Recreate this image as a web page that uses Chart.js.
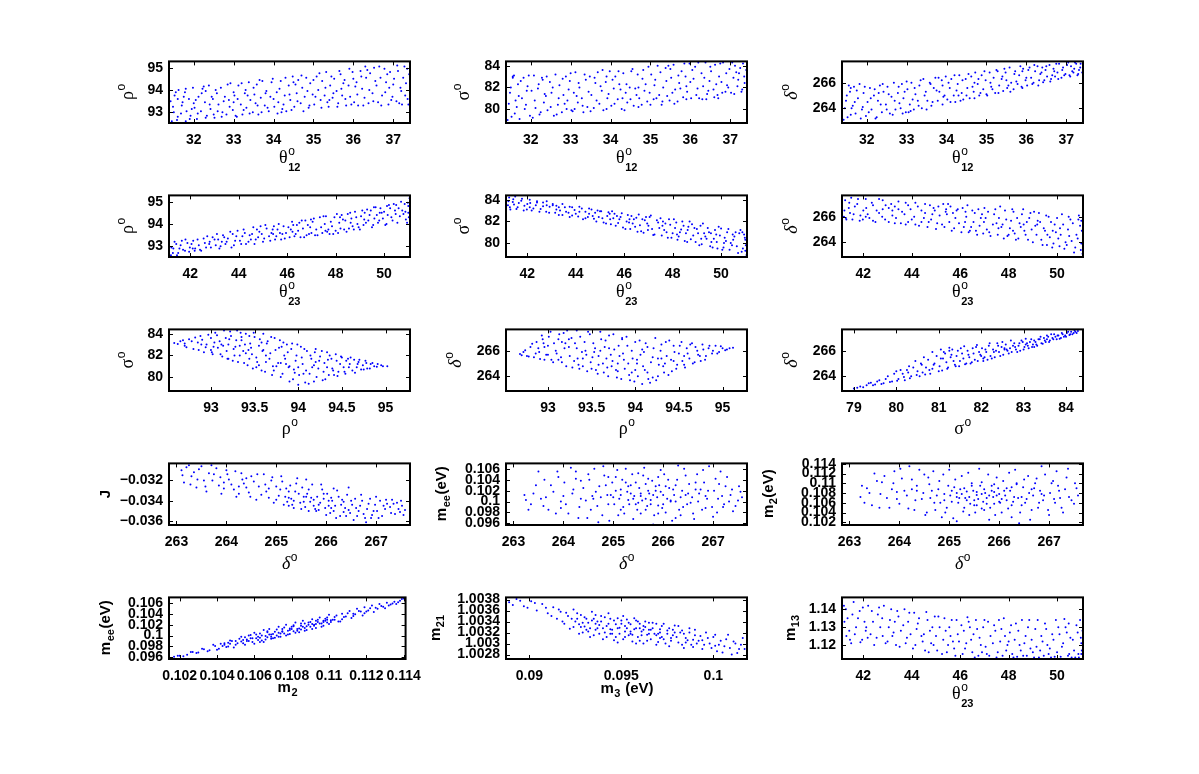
<!DOCTYPE html>
<html><head><meta charset="utf-8">
<script src="https://cdn.jsdelivr.net/npm/chart.js@4.4.0/dist/chart.umd.min.js"></script>
<style>
html,body{margin:0;padding:0;background:#fff;}
#page{position:relative;width:1199px;height:774px;overflow:hidden;background:#fff;}
.cell{position:absolute;}
</style></head><body><div id="page"></div>
<script>
// ---------- data: [x, y] pairs ----------
const rho_theta12 = [[31.45,92.6],[31.5,93.0],[31.42,93.5],[31.55,93.9],[31.6,92.8],[31.7,93.3],[31.75,93.7],[31.8,94.05],[31.9,92.7],[31.95,93.15],
[32.05,93.55],[32.1,92.95],[32.2,93.85],[32.25,94.15],[32.3,92.75],[32.4,93.35],[32.45,93.7],[32.55,94.0],[32.6,93.05],[32.7,92.8],
[32.75,93.5],[32.85,94.25],[32.9,93.25],[33.0,93.9],[33.05,92.85],[33.1,93.6],[33.2,94.3],[33.25,93.1],[33.35,93.75],[33.4,92.95],
[33.5,94.1],[33.55,93.4],[33.65,94.45],[33.7,93.0],[33.8,93.85],[33.85,93.2],[33.95,94.35],[34.0,93.6],[34.1,92.95],[34.15,94.05],
[34.25,93.35],[34.3,94.55],[34.4,93.8],[34.45,93.1],[34.55,94.25],[34.6,93.5],[34.7,94.65],[34.75,93.05],[34.85,93.95],[34.9,93.3],
[35.0,94.45],[35.05,93.7],[35.15,94.75],[35.2,93.2],[35.3,94.1],[35.35,93.45],[35.45,94.6],[35.5,93.85],[35.6,93.25],[35.65,94.85],
[35.75,94.3],[35.8,93.6],[35.9,94.95],[35.95,93.35],[36.05,94.15],[36.1,93.8],[36.2,94.6],[36.25,93.3],[36.35,94.9],[36.4,94.0],
[36.5,93.5],[36.55,94.4],[36.65,95.05],[36.7,93.3],[36.8,93.9],[36.85,94.7],[36.95,93.55],[37.0,94.25],[37.1,95.1],[37.15,93.4],
[37.25,94.55],[37.3,93.75],[37.35,94.95],[37.38,93.35],[31.6,93.6],[32.0,93.4],[32.5,92.9],[33.3,94.0],[34.5,94.35],[35.4,93.55],
[36.0,94.5],[36.9,94.1],[33.6,93.3],[31.8,92.6],[34.2,93.0],[35.7,94.05],[37.2,93.95],[32.3,93.95],[33.0,93.45],[36.3,95.05]];
const rho_theta12_b = [[31.48,93.25],[31.52,93.75],[31.58,92.65],[31.62,94.0],[31.68,92.95],[31.72,93.45],[31.78,93.9],[31.82,93.05],[31.88,93.6],[31.92,92.85],
[31.98,94.1],[32.02,93.2],[32.08,92.7],[32.12,93.7],[32.18,93.05],[32.22,94.05],[32.28,93.45],[32.33,92.85],[32.38,94.2],[32.42,93.15],
[32.48,93.6],[32.52,92.75],[32.58,93.85],[32.62,93.35],[32.68,94.1],[32.72,93.0],[32.78,93.7],[32.82,92.9],[32.88,93.55],[32.92,94.3],
[32.98,93.1],[33.02,93.75],[33.08,92.8],[33.12,94.2],[33.18,93.35],[33.22,92.9],[33.28,93.85],[33.32,93.2],[33.38,94.35],[33.42,93.55],
[33.48,93.0],[33.52,93.8],[33.58,94.25],[33.62,92.9],[33.68,93.65],[33.72,94.4],[33.78,93.3],[33.82,93.95],[33.88,93.05],[33.92,93.7],
[33.98,94.5],[34.02,93.25],[34.08,93.9],[34.12,93.45],[34.18,94.4],[34.22,93.15],[34.28,93.75],[34.32,93.05],[34.38,94.2],[34.42,93.55],
[34.48,94.6],[34.52,93.25],[34.58,93.85],[34.62,94.45],[34.68,93.4],[34.72,94.1],[34.78,93.7],[34.82,94.55],[34.88,93.2],[34.92,94.3],
[34.98,93.8],[35.02,93.35],[35.08,94.6],[35.12,94.0],[35.18,93.55],[35.22,94.4],[35.28,93.75],[35.32,94.8],[35.38,93.25],[35.42,94.2],
[35.48,93.65],[35.52,94.5],[35.58,93.95],[35.62,93.4],[35.68,94.7],[35.72,93.75],[35.78,94.45],[35.82,93.3],[35.88,94.2],[35.92,93.7],
[35.98,94.8],[36.02,93.45],[36.08,94.35],[36.12,93.3],[36.18,94.85],[36.22,94.05],[36.28,93.65],[36.32,94.55],[36.38,93.4],[36.42,94.75],
[36.48,93.85],[36.52,95.0],[36.58,94.2],[36.62,93.45],[36.68,94.55],[36.72,93.75],[36.78,94.95],[36.82,94.35],[36.88,93.35],[36.92,94.8],
[36.98,93.7],[37.02,94.5],[37.08,93.5],[37.12,94.85],[37.18,94.1],[37.22,93.35],[37.28,95.05],[37.32,94.3],[37.36,93.6],[37.4,94.7]];

const sigma_theta12 = [[31.42,79.0],[31.45,80.5],[31.5,82.0],[31.55,83.0],[31.6,79.6],[31.7,81.2],[31.75,82.6],[31.85,80.0],[31.9,81.7],[31.95,83.1],
[32.05,79.2],[32.1,80.8],[32.2,82.3],[32.25,79.7],[32.35,81.4],[32.4,83.0],[32.5,80.2],[32.55,82.0],[32.65,79.5],[32.7,81.0],
[32.8,82.8],[32.85,80.5],[32.95,81.8],[33.0,83.3],[33.05,79.8],[33.15,81.2],[33.2,82.4],[33.3,80.3],[33.35,83.2],[33.45,81.6],
[33.5,79.8],[33.6,82.9],[33.65,80.8],[33.75,82.1],[33.8,83.6],[33.9,80.0],[33.95,81.4],[34.05,82.7],[34.1,80.5],[34.2,83.5],
[34.25,81.8],[34.35,79.9],[34.4,82.3],[34.5,80.9],[34.55,83.7],[34.65,81.3],[34.7,80.2],[34.8,82.8],[34.85,81.7],[34.95,83.9],
[35.0,80.4],[35.1,82.2],[35.15,81.0],[35.25,83.4],[35.3,80.7],[35.4,82.6],[35.45,84.0],[35.55,81.5],[35.6,80.5],[35.7,83.1],
[35.75,81.9],[35.85,84.2],[35.9,80.9],[36.0,82.5],[36.05,83.6],[36.15,81.3],[36.2,84.3],[36.3,80.9],[36.35,82.9],[36.45,81.7],
[36.5,83.9],[36.6,81.1],[36.65,82.3],[36.75,84.2],[36.8,81.5],[36.9,83.3],[36.95,82.0],[37.05,84.3],[37.1,81.4],[37.2,82.7],
[37.25,83.8],[37.3,81.8],[37.35,83.0],[31.55,82.9],[32.3,82.7],[33.1,80.0],[33.9,83.0],[34.7,82.0],[35.5,83.7],[36.4,80.9],
[37.15,83.4],[31.65,80.2],[32.9,80.0],[34.3,81.0],[35.9,82.1],[36.7,81.0]];
const sigma_theta12_b = [[31.48,81.5],[31.52,79.3],[31.58,83.1],[31.62,80.8],[31.68,82.3],[31.72,79.1],[31.78,81.0],[31.82,82.9],[31.88,80.4],[31.92,82.1],
[31.98,79.4],[32.02,81.7],[32.08,83.1],[32.12,80.1],[32.18,81.9],[32.22,79.5],[32.28,82.9],[32.33,80.6],[32.38,81.2],[32.42,79.9],
[32.48,82.5],[32.52,81.5],[32.58,79.4],[32.62,83.2],[32.68,80.4],[32.72,82.2],[32.78,79.7],[32.82,81.3],[32.88,83.0],[32.92,80.8],
[32.98,82.6],[33.02,79.9],[33.08,81.5],[33.12,83.4],[33.18,80.6],[33.22,82.0],[33.28,81.0],[33.32,79.7],[33.38,82.7],[33.42,80.2],
[33.48,83.0],[33.52,81.3],[33.58,80.1],[33.62,82.4],[33.68,83.4],[33.72,80.5],[33.78,81.7],[33.82,79.9],[33.88,82.5],[33.92,81.0],
[33.98,83.5],[34.02,80.3],[34.08,81.9],[34.12,83.0],[34.18,80.9],[34.22,82.3],[34.28,80.0],[34.32,83.3],[34.38,81.5],[34.42,80.6],
[34.48,82.0],[34.52,83.5],[34.58,80.3],[34.62,81.9],[34.68,83.2],[34.72,81.0],[34.78,80.4],[34.82,83.6],[34.88,82.3],[34.92,80.7],
[34.98,81.5],[35.02,83.2],[35.08,80.9],[35.12,82.7],[35.18,84.0],[35.22,81.3],[35.28,80.4],[35.32,82.0],[35.38,83.8],[35.42,81.2],
[35.48,80.8],[35.52,82.9],[35.58,84.1],[35.62,81.8],[35.68,80.7],[35.72,82.4],[35.78,83.5],[35.82,81.1],[35.88,83.0],[35.92,81.6],
[35.98,84.2],[36.02,81.0],[36.08,82.8],[36.12,83.9],[36.18,81.9],[36.22,81.0],[36.28,83.3],[36.32,82.1],[36.38,84.3],[36.42,81.4],
[36.48,82.6],[36.52,83.5],[36.58,81.8],[36.62,84.1],[36.68,81.3],[36.72,83.0],[36.78,82.5],[36.82,84.3],[36.88,81.6],[36.92,82.2],
[36.98,83.7],[37.02,81.5],[37.08,82.9],[37.12,84.0],[37.18,82.1],[37.22,83.3],[37.28,81.6],[37.32,84.2],[37.36,82.4],[37.4,83.6]];

const delta_theta12 = [[31.42,263.1],[31.45,264.0],[31.5,265.0],[31.55,265.8],[31.6,263.5],[31.7,264.5],[31.75,265.4],[31.85,263.2],[31.9,264.1],[31.95,265.7],
[32.05,263.7],[32.1,264.8],[32.2,265.5],[32.25,263.3],[32.35,264.3],[32.4,265.9],[32.5,263.9],[32.55,265.1],[32.65,263.5],[32.7,264.6],
[32.8,265.7],[32.85,264.0],[32.95,265.3],[33.0,266.1],[33.05,263.7],[33.15,264.7],[33.2,265.6],[33.3,264.2],[33.35,266.2],[33.45,265.0],
[33.5,263.9],[33.6,265.9],[33.65,264.5],[33.75,265.4],[33.8,266.4],[33.9,264.3],[33.95,265.0],[34.05,266.0],[34.1,264.5],[34.2,266.6],
[34.25,265.4],[34.35,264.6],[34.4,266.2],[34.5,265.0],[34.55,266.7],[34.65,265.7],[34.7,264.8],[34.8,266.3],[34.85,265.2],[34.95,266.9],
[35.0,265.1],[35.1,266.0],[35.15,265.5],[35.25,267.0],[35.3,265.2],[35.4,266.5],[35.45,267.1],[35.55,265.8],[35.6,265.3],[35.7,266.7],
[35.75,266.1],[35.85,267.3],[35.9,265.6],[36.0,266.4],[36.05,267.0],[36.15,265.9],[36.2,267.4],[36.3,265.8],[36.35,266.7],[36.45,266.2],
[36.5,267.3],[36.6,266.1],[36.65,266.6],[36.75,267.5],[36.8,266.3],[36.9,267.0],[36.95,266.6],[37.05,267.6],[37.1,266.5],[37.2,267.1],
[37.25,267.5],[37.3,266.7],[37.35,267.2],[31.6,265.6],[32.3,265.2],[33.1,263.8],[33.9,265.8],[34.7,266.0],[35.5,266.2],[36.4,267.2],
[37.15,266.9],[31.65,264.2],[32.9,263.6],[34.3,265.0],[35.9,266.9],[36.7,266.9]];
const delta_theta12_b = [[31.48,264.6],[31.52,263.3],[31.58,265.3],[31.62,264.0],[31.68,265.7],[31.72,263.6],[31.78,264.8],[31.82,265.9],[31.88,263.9],[31.92,265.2],
[31.98,263.4],[32.02,264.5],[32.08,265.6],[32.12,263.9],[32.18,265.0],[32.22,263.2],[32.28,264.6],[32.33,265.8],[32.38,263.7],[32.42,265.3],
[32.48,264.3],[32.52,265.7],[32.58,263.6],[32.62,264.9],[32.68,266.0],[32.72,263.9],[32.78,265.2],[32.82,264.4],[32.88,265.9],[32.92,264.8],
[32.98,263.7],[33.02,265.5],[33.08,264.3],[33.12,266.0],[33.18,263.9],[33.22,265.1],[33.28,264.6],[33.32,265.8],[33.38,264.0],[33.42,266.3],
[33.48,265.3],[33.52,264.6],[33.58,266.0],[33.62,264.2],[33.68,265.6],[33.72,266.4],[33.78,264.6],[33.82,265.3],[33.88,266.2],[33.92,264.9],
[33.98,266.5],[34.02,264.7],[34.08,265.6],[34.12,266.3],[34.18,265.0],[34.22,264.5],[34.28,265.9],[34.32,266.6],[34.38,265.2],[34.42,264.7],
[34.48,266.3],[34.52,265.6],[34.58,264.8],[34.62,266.5],[34.68,265.3],[34.72,266.8],[34.78,265.9],[34.82,265.0],[34.88,266.6],[34.92,265.5],
[34.98,266.2],[35.02,265.0],[35.08,266.8],[35.12,265.7],[35.18,266.4],[35.22,265.2],[35.28,266.9],[35.32,265.8],[35.38,266.3],[35.42,265.35],
[35.48,266.8],[35.52,265.6],[35.58,267.2],[35.62,266.0],[35.68,265.5],[35.72,266.9],[35.78,265.9],[35.82,266.6],[35.88,265.7],[35.92,267.1],
[35.98,266.2],[36.02,265.8],[36.08,267.2],[36.12,266.4],[36.18,266.0],[36.22,266.9],[36.28,267.3],[36.32,266.2],[36.38,266.8],[36.42,266.05],
[36.48,267.0],[36.52,266.5],[36.58,267.4],[36.62,266.3],[36.68,267.1],[36.72,266.5],[36.78,266.8],[36.82,267.5],[36.88,266.4],[36.92,267.2],
[36.98,266.7],[37.02,267.4],[37.08,266.6],[37.12,267.3],[37.18,266.8],[37.22,267.6],[37.28,266.6],[37.32,267.0],[37.36,267.5],[37.4,266.8]];

const rho_theta23 = [[41.2,92.6],[41.3,92.9],[41.35,93.2],[41.5,92.7],[41.6,93.05],[41.7,92.85],[41.8,93.3],[41.95,92.75],[42.05,93.1],[42.2,92.9],
[42.3,93.3],[42.45,92.8],[42.6,93.15],[42.7,93.45],[42.85,92.95],[43.0,93.3],[43.1,93.55],[43.25,93.0],[43.4,93.4],[43.5,93.2],
[43.65,93.65],[43.8,93.05],[43.9,93.45],[44.05,93.25],[44.2,93.75],[44.3,93.1],[44.45,93.5],[44.6,93.85],[44.7,93.3],[44.85,93.65],
[45.0,93.2],[45.1,93.95],[45.25,93.45],[45.4,93.75],[45.5,93.3],[45.65,94.0],[45.8,93.55],[45.9,93.35],[46.05,93.85],[46.2,94.1],
[46.3,93.45],[46.45,93.7],[46.6,94.15],[46.7,93.4],[46.85,93.95],[47.0,93.6],[47.1,94.25],[47.25,93.5],[47.4,93.85],[47.5,94.35],
[47.65,93.65],[47.8,94.1],[47.9,93.55],[48.05,94.45],[48.2,93.8],[48.3,94.2],[48.45,93.65],[48.6,94.5],[48.7,93.9],[48.85,94.3],
[49.0,93.75],[49.1,94.6],[49.25,94.05],[49.4,94.4],[49.5,93.85],[49.65,94.75],[49.8,94.15],[49.9,94.5],[50.05,93.95],[50.2,94.85],
[50.3,94.3],[50.45,94.6],[50.55,94.05],[50.7,95.0],[50.8,94.45],[50.9,94.2],[51.0,94.8],[51.05,95.15],[50.6,94.7],[50.95,94.05],
[49.6,94.25],[48.9,94.0],[47.7,93.75],[46.9,93.55],[45.7,93.6],[44.5,93.3],[43.3,93.2],[42.1,92.9],[50.4,94.9],[51.0,94.5],
[49.3,94.65],[48.0,93.7],[46.4,93.95],[44.9,93.9],[42.8,93.2]];
const rho_theta23_b = [[41.22,92.95],[41.28,92.7],[41.42,93.1],[41.45,92.6],[41.55,92.9],[41.65,93.25],[41.78,92.8],[41.88,93.15],[41.98,92.95],[42.12,93.25],
[42.18,92.8],[42.35,93.05],[42.4,92.85],[42.55,93.35],[42.65,92.95],[42.78,93.1],[42.92,93.4],[43.05,93.05],[43.15,93.3],[43.2,92.9],
[43.35,93.5],[43.45,93.1],[43.55,93.35],[43.7,92.95],[43.75,93.55],[43.85,93.25],[43.95,93.7],[44.1,93.1],[44.15,93.45],[44.25,93.6],
[44.4,93.2],[44.55,93.55],[44.65,93.1],[44.75,93.75],[44.8,93.4],[44.95,93.55],[45.05,93.35],[45.15,93.8],[45.3,93.25],[45.35,93.6],
[45.45,93.9],[45.55,93.45],[45.6,93.75],[45.75,93.3],[45.85,93.9],[45.95,93.6],[46.1,93.4],[46.15,93.75],[46.25,93.95],[46.35,93.55],
[46.5,94.05],[46.55,93.4],[46.65,93.8],[46.75,94.15],[46.8,93.5],[46.95,93.85],[47.05,94.1],[47.15,93.5],[47.2,93.75],[47.35,94.3],
[47.45,93.6],[47.55,94.0],[47.6,94.35],[47.75,93.55],[47.85,93.9],[47.95,94.3],[48.1,93.6],[48.15,94.05],[48.25,94.4],[48.35,93.75],
[48.4,94.15],[48.5,94.45],[48.55,93.8],[48.65,94.25],[48.75,93.75],[48.8,94.55],[48.95,93.85],[49.05,94.35],[49.15,93.95],[49.2,94.5],
[49.35,94.15],[49.45,94.6],[49.55,93.95],[49.7,94.4],[49.75,94.05],[49.85,94.7],[49.95,94.25],[50.0,94.55],[50.1,94.0],[50.15,94.4],
[50.25,94.7],[50.35,94.15],[50.5,94.85],[50.65,94.35],[50.75,94.6],[50.85,94.9],[51.02,94.3],[50.98,94.95],[50.88,94.55],[50.48,94.45],
[50.12,94.8],[49.82,94.5],[49.58,94.75],[49.18,94.2],[48.62,94.05],[48.18,94.3],[47.58,93.7],[46.98,94.2],[46.22,93.65],[45.42,93.55]];

const sigma_theta23 = [[41.2,83.5],[41.25,84.2],[41.3,83.1],[41.4,83.8],[41.5,84.3],[41.6,83.3],[41.75,83.9],[41.85,83.0],[42.0,83.6],[42.1,84.0],
[42.25,83.2],[42.4,83.75],[42.5,82.9],[42.65,83.4],[42.8,83.85],[42.9,82.8],[43.05,83.5],[43.2,83.1],[43.3,82.6],[43.45,83.6],
[43.6,82.9],[43.75,82.4],[43.85,83.3],[44.0,82.7],[44.15,83.35],[44.3,82.2],[44.4,82.9],[44.55,83.2],[44.7,82.5],[44.85,82.0],
[45.0,82.95],[45.1,82.3],[45.25,81.8],[45.4,82.7],[45.5,82.95],[45.65,81.6],[45.8,82.2],[45.9,82.75],[46.05,81.3],[46.2,81.9],
[46.3,82.5],[46.45,81.5],[46.6,82.65],[46.7,81.1],[46.85,82.1],[47.0,81.6],[47.1,82.55],[47.25,80.8],[47.4,81.9],[47.5,82.3],
[47.65,81.2],[47.8,80.5],[47.9,81.7],[48.05,82.2],[48.2,80.3],[48.3,81.0],[48.45,81.6],[48.6,80.1],[48.7,82.0],[48.85,80.7],
[49.0,81.3],[49.1,79.8],[49.25,81.8],[49.4,80.4],[49.5,81.0],[49.65,79.6],[49.8,80.8],[49.9,81.5],[50.05,79.4],[50.2,80.2],
[50.3,81.3],[50.45,79.8],[50.55,80.6],[50.7,79.1],[50.8,81.2],[50.9,79.5],[51.0,80.3],[51.05,78.9],[50.6,81.0],[50.95,80.8],
[49.6,80.1],[48.9,81.4],[47.7,81.8],[46.9,82.4],[45.7,82.5],[44.5,82.4],[43.3,83.3],[42.1,83.3],[50.4,80.0],[51.0,79.3],
[49.3,80.9],[48.0,80.9],[46.4,82.2],[44.9,83.0],[42.8,83.5]];
const sigma_theta23_b = [[41.22,83.85],[41.28,83.3],[41.42,84.05],[41.45,83.55],[41.55,83.15],[41.65,83.7],[41.78,84.1],[41.88,83.45],[41.98,83.1],[42.12,83.7],
[42.18,83.0],[42.35,83.5],[42.4,83.85],[42.55,83.15],[42.65,83.75],[42.78,82.9],[42.92,83.35],[43.05,83.6],[43.15,82.8],[43.2,83.45],
[43.35,83.0],[43.45,82.6],[43.55,83.3],[43.7,82.8],[43.75,83.35],[43.85,82.55],[43.95,83.05],[44.1,82.45],[44.15,82.9],[44.25,83.2],
[44.4,82.3],[44.55,82.7],[44.65,83.1],[44.75,82.25],[44.8,82.8],[44.95,82.4],[45.05,82.95],[45.15,81.9],[45.3,82.5],[45.35,82.85],
[45.45,81.75],[45.55,82.3],[45.6,82.7],[45.75,81.85],[45.85,82.4],[45.95,81.45],[46.1,82.0],[46.15,82.6],[46.25,81.3],[46.35,81.8],
[46.5,82.35],[46.55,81.05],[46.65,81.65],[46.75,82.2],[46.8,80.95],[46.95,81.8],[47.05,82.4],[47.15,81.3],[47.2,80.75],[47.35,82.1],
[47.45,81.4],[47.55,80.7],[47.6,82.0],[47.75,81.0],[47.85,82.2],[47.95,80.5],[48.1,81.4],[48.15,81.9],[48.25,80.6],[48.35,81.25],
[48.4,82.0],[48.5,80.2],[48.55,80.9],[48.65,81.5],[48.75,80.35],[48.8,81.75],[48.95,80.1],[49.05,80.9],[49.15,81.6],[49.2,79.9],
[49.35,80.6],[49.45,81.4],[49.55,79.7],[49.7,80.4],[49.75,81.2],[49.85,79.5],[49.95,80.7],[50.0,81.35],[50.1,79.6],[50.15,80.5],
[50.25,81.0],[50.35,79.4],[50.5,80.3],[50.65,79.7],[50.75,80.9],[50.85,79.2],[51.02,79.8],[50.98,80.5],[50.88,81.0],[50.48,80.8],
[50.12,80.0],[49.82,80.1],[49.58,80.9],[49.18,80.4],[48.62,81.2],[48.18,80.8],[47.58,81.6],[46.98,81.2],[46.22,82.2],[45.42,82.2]];

const delta_theta23 = [[41.2,266.0],[41.25,267.3],[41.3,265.8],[41.4,266.7],[41.5,267.5],[41.6,266.2],[41.75,267.0],[41.85,265.7],[42.0,266.5],[42.1,267.4],
[42.25,265.9],[42.4,266.9],[42.5,265.6],[42.65,266.3],[42.8,267.3],[42.9,265.8],[43.05,266.7],[43.2,266.1],[43.3,265.5],[43.45,267.2],
[43.6,266.4],[43.75,265.4],[43.85,266.9],[44.0,265.8],[44.15,267.1],[44.3,265.3],[44.4,266.5],[44.55,267.0],[44.7,265.6],[44.85,266.2],
[45.0,265.05],[45.1,266.8],[45.25,265.4],[45.4,266.4],[45.5,267.0],[45.65,264.9],[45.8,265.9],[45.9,266.6],[46.05,264.8],[46.2,265.6],
[46.3,266.9],[46.45,265.2],[46.6,266.3],[46.7,264.6],[46.85,265.9],[47.0,266.7],[47.1,265.0],[47.25,264.5],[47.4,266.2],[47.5,265.5],
[47.65,266.8],[47.8,264.3],[47.9,265.8],[48.05,265.1],[48.2,266.4],[48.3,264.2],[48.45,265.5],[48.6,266.6],[48.7,264.6],[48.85,265.9],
[49.0,264.0],[49.1,265.3],[49.25,266.3],[49.4,263.8],[49.5,264.9],[49.65,266.0],[49.8,263.6],[49.9,265.4],[50.05,264.3],[50.2,266.2],
[50.3,263.5],[50.45,265.0],[50.55,265.8],[50.7,263.2],[50.8,264.6],[50.9,266.1],[51.0,263.9],[51.05,263.1],[50.6,264.1],[50.95,265.3],
[49.6,264.6],[48.9,266.3],[47.7,265.2],[46.9,266.2],[45.7,266.3],[44.5,265.9],[43.3,266.8],[42.1,266.0],[50.4,263.8],[51.0,265.7],
[49.3,265.6],[48.0,264.6],[46.4,264.9],[44.9,266.7],[42.8,266.6]];
const delta_theta23_b = [[41.22,266.5],[41.28,265.9],[41.42,267.1],[41.45,266.3],[41.55,265.8],[41.65,266.8],[41.78,267.4],[41.88,266.1],[41.98,265.8],[42.12,266.7],
[42.18,266.2],[42.35,267.1],[42.4,265.7],[42.55,266.5],[42.65,267.4],[42.78,266.0],[42.92,266.9],[43.05,265.6],[43.15,267.0],[43.2,266.5],
[43.35,265.9],[43.45,266.6],[43.55,265.5],[43.7,266.2],[43.75,267.1],[43.85,265.6],[43.95,266.6],[44.1,266.0],[44.15,265.4],[44.25,266.8],
[44.4,265.6],[44.55,266.3],[44.65,265.2],[44.75,266.9],[44.8,265.8],[44.95,266.5],[45.05,265.5],[45.15,266.1],[45.3,267.0],[45.35,265.2],
[45.45,266.2],[45.55,265.6],[45.6,266.8],[45.75,265.1],[45.85,266.5],[45.95,265.5],[46.1,266.7],[46.15,265.2],[46.25,266.0],[46.35,264.8],
[46.5,266.5],[46.55,265.6],[46.65,264.9],[46.75,266.6],[46.8,265.3],[46.95,264.7],[47.05,265.9],[47.15,266.4],[47.2,264.8],[47.35,265.4],
[47.45,266.6],[47.55,264.6],[47.6,265.9],[47.75,265.4],[47.85,266.5],[47.95,264.5],[48.1,265.7],[48.15,266.6],[48.25,264.7],[48.35,265.9],
[48.4,264.3],[48.5,265.2],[48.55,266.2],[48.65,264.9],[48.75,265.6],[48.8,264.2],[48.95,265.0],[49.05,266.4],[49.15,264.6],[49.2,265.7],
[49.35,264.2],[49.45,265.1],[49.55,266.1],[49.7,264.4],[49.75,265.6],[49.85,263.9],[49.95,264.8],[50.0,265.9],[50.1,263.7],[50.15,264.6],
[50.25,265.4],[50.35,264.0],[50.5,264.5],[50.65,265.5],[50.75,263.6],[50.85,264.3],[51.02,264.9],[50.98,263.4],[50.88,265.8],[50.48,266.0],
[50.12,265.1],[49.82,264.9],[49.58,263.8],[49.18,265.4],[48.62,265.4],[48.18,264.9],[47.58,265.1],[46.98,265.6],[46.22,266.4],[45.42,266.6]];

const sigma_rho = [[92.58,83.15],[92.65,83.3],[92.7,82.9],[92.75,83.5],[92.8,82.6],[92.85,83.2],[92.88,83.8],[92.92,82.3],[92.95,83.0],[93.0,83.6],
[93.02,82.1],[93.05,84.1],[93.08,82.7],[93.1,83.3],[93.13,81.9],[93.15,84.3],[93.18,82.4],[93.2,83.0],[93.23,83.8],[93.25,81.5],
[93.28,82.8],[93.3,84.3],[93.33,82.0],[93.35,83.4],[93.38,81.3],[93.4,84.0],[93.43,82.5],[93.45,83.1],[93.48,80.8],[93.5,83.7],
[93.52,81.8],[93.55,82.9],[93.58,80.6],[93.6,84.0],[93.63,81.4],[93.65,83.3],[93.68,82.2],[93.7,80.2],[93.73,83.6],[93.75,81.0],
[93.78,82.7],[93.8,80.0],[93.83,83.2],[93.85,81.7],[93.88,82.3],[93.9,79.6],[93.93,83.1],[93.95,80.7],[93.98,82.0],[94.0,79.3],
[94.03,82.8],[94.05,81.2],[94.08,79.5],[94.1,82.4],[94.13,80.3],[94.15,81.7],[94.18,79.6],[94.2,82.6],[94.23,80.8],[94.25,81.9],
[94.28,79.7],[94.3,81.3],[94.33,82.3],[94.35,80.2],[94.38,81.7],[94.4,80.6],[94.43,82.1],[94.45,80.1],[94.48,81.2],[94.5,81.8],
[94.53,80.5],[94.55,81.5],[94.58,80.9],[94.6,81.8],[94.65,80.4],[94.68,81.2],[94.7,81.6],[94.75,80.7],[94.78,81.3],[94.82,80.8],
[94.85,81.3],[94.9,80.95],[94.95,81.1],[95.02,81.0],[93.4,82.2],[93.6,82.5],[93.8,81.3],[94.0,80.9],[93.2,81.7],[93.0,82.5],
[92.7,83.1],[93.55,81.1],[93.9,81.0],[94.2,81.4],[93.35,83.7]];
const sigma_rho_b = [[92.62,83.05],[92.68,83.4],[92.72,82.75],[92.78,83.3],[92.82,83.65],[92.86,82.5],[92.9,83.45],[92.94,82.75],[92.97,83.9],[93.01,82.3],
[93.04,83.2],[93.07,83.85],[93.11,82.1],[93.14,82.9],[93.17,83.6],[93.19,81.7],[93.22,84.2],[93.26,82.6],[93.29,83.4],[93.31,81.4],
[93.34,84.1],[93.37,82.4],[93.39,83.0],[93.42,81.1],[93.44,83.8],[93.47,82.1],[93.49,84.1],[93.53,81.4],[93.56,83.5],[93.59,82.4],
[93.62,80.5],[93.64,83.1],[93.67,81.7],[93.69,83.7],[93.72,80.6],[93.74,82.5],[93.77,81.3],[93.79,83.4],[93.82,80.3],[93.84,82.0],
[93.87,83.0],[93.89,80.9],[93.92,82.6],[93.94,79.8],[93.97,81.5],[93.99,83.0],[94.01,80.2],[94.04,81.8],[94.07,82.6],[94.09,80.6],
[94.12,79.4],[94.14,82.0],[94.16,80.9],[94.19,82.3],[94.21,80.0],[94.24,81.5],[94.27,82.4],[94.29,80.5],[94.31,79.8],[94.34,81.6],
[94.36,82.0],[94.39,80.8],[94.41,80.2],[94.44,81.5],[94.46,80.5],[94.49,81.9],[94.52,80.9],[94.54,80.3],[94.57,81.7],[94.59,81.2],
[94.62,80.6],[94.64,81.6],[94.67,80.9],[94.69,81.4],[94.72,80.7],[94.74,81.1],[94.77,81.5],[94.79,80.8],[94.83,81.2],[94.87,81.0],
[94.91,81.2],[94.97,81.0],[93.12,83.0],[93.27,82.0],[93.46,82.7],[93.63,82.0],[93.81,82.8],[94.06,80.3],[93.33,82.9],[93.58,83.2],
[93.21,83.5],[93.03,82.8],[93.71,81.0],[93.96,80.4],[94.18,81.1],[93.44,81.7],[93.86,81.2],[92.89,83.0],[93.52,80.9],[94.33,80.9]];

const delta_rho = [[92.68,265.75],[92.72,265.9],[92.76,265.6],[92.8,266.3],[92.84,265.5],[92.87,266.7],[92.9,265.9],[92.93,267.2],[92.96,265.3],[93.0,266.4],
[93.03,267.5],[93.06,265.1],[93.09,266.0],[93.12,266.9],[93.15,265.5],[93.18,267.4],[93.21,264.8],[93.24,266.3],[93.27,267.0],[93.3,265.2],
[93.33,267.6],[93.36,264.6],[93.39,265.9],[93.42,266.7],[93.45,264.4],[93.48,267.3],[93.51,265.5],[93.54,266.2],[93.57,264.2],[93.6,267.5],
[93.63,265.0],[93.66,266.8],[93.69,264.0],[93.72,265.7],[93.75,267.3],[93.78,264.5],[93.81,266.4],[93.84,263.8],[93.87,265.3],[93.9,267.1],
[93.93,264.1],[93.96,266.0],[93.99,263.6],[94.02,265.0],[94.05,266.8],[94.08,263.4],[94.11,264.5],[94.14,266.3],[94.17,263.5],[94.2,265.5],
[94.23,267.0],[94.26,264.0],[94.29,266.0],[94.32,264.8],[94.35,266.7],[94.38,264.1],[94.41,265.3],[94.44,266.4],[94.47,264.6],[94.5,265.8],
[94.53,266.7],[94.56,264.9],[94.59,266.2],[94.62,265.4],[94.65,266.6],[94.68,265.1],[94.71,266.0],[94.74,265.6],[94.77,266.5],[94.8,265.3],
[94.84,266.2],[94.88,265.8],[94.92,266.4],[94.96,265.9],[95.0,266.2],[95.05,266.1],[95.12,266.25],[93.2,266.6],[93.4,265.4],[93.6,266.0],
[93.8,265.0],[94.0,264.5],[93.0,265.7],[93.5,264.6],[94.1,265.9],[94.3,265.4],[93.7,266.2],[92.95,266.6],[93.85,266.9]];
const delta_rho_b = [[92.7,265.65],[92.74,266.05],[92.78,265.55],[92.82,266.55],[92.86,265.8],[92.89,266.2],[92.91,265.35],[92.94,266.9],[92.98,265.7],[93.01,267.1],
[93.04,265.3],[93.07,266.6],[93.1,265.8],[93.13,267.3],[93.16,265.1],[93.19,266.2],[93.22,267.6],[93.25,265.6],[93.28,264.7],[93.31,266.6],
[93.34,265.4],[93.37,267.1],[93.4,264.8],[93.43,266.0],[93.46,267.5],[93.49,265.1],[93.52,266.6],[93.55,264.5],[93.58,265.6],[93.61,266.9],
[93.64,264.3],[93.67,265.4],[93.7,267.2],[93.73,264.8],[93.76,266.1],[93.79,263.9],[93.82,265.6],[93.85,267.0],[93.88,264.6],[93.91,266.4],
[93.94,263.7],[93.97,265.4],[94.0,266.7],[94.03,264.0],[94.06,265.7],[94.09,264.8],[94.12,266.6],[94.15,263.8],[94.18,265.1],[94.21,266.2],
[94.24,263.7],[94.27,264.9],[94.3,266.5],[94.33,264.3],[94.36,265.6],[94.39,266.8],[94.42,264.4],[94.45,265.9],[94.48,264.9],[94.51,266.4],
[94.54,265.2],[94.57,264.7],[94.6,265.8],[94.63,266.5],[94.66,265.0],[94.69,266.3],[94.72,265.7],[94.75,265.2],[94.78,266.1],[94.81,265.6],
[94.85,266.4],[94.89,266.0],[94.94,265.8],[94.98,266.35],[95.03,266.05],[95.08,266.2],[93.12,265.3],[93.33,266.2],[93.53,265.9],[93.74,265.2],
[93.96,264.3],[94.14,264.3],[93.44,265.7],[93.65,266.3],[93.86,265.8],[94.08,266.1],[94.26,265.4],[94.44,265.2],[93.24,266.9],[92.96,266.3],
[93.58,264.9],[93.8,264.4],[94.02,265.3],[93.16,266.7],[94.56,265.6],[93.35,264.9],[93.92,265.0],[94.34,265.0],[93.68,264.7],[94.2,263.9]];

const delta_sigma = [[79.0,263.05],[79.15,263.2],[79.3,263.3],[79.4,263.5],[79.5,263.35],[79.6,263.7],[79.7,263.45],[79.8,264.0],[79.9,263.6],[80.0,264.4],
[80.05,263.8],[80.15,264.2],[80.2,263.7],[80.3,264.8],[80.35,264.0],[80.45,265.2],[80.5,264.4],[80.55,264.0],[80.65,265.5],[80.7,264.7],
[80.8,264.2],[80.85,265.9],[80.9,265.0],[81.0,264.4],[81.05,266.1],[81.1,265.4],[81.2,264.6],[81.25,266.25],[81.3,265.7],[81.4,264.8],
[81.45,266.0],[81.5,265.2],[81.6,266.35],[81.65,265.0],[81.7,265.7],[81.8,266.2],[81.85,265.3],[81.9,266.45],[82.0,265.6],[82.05,265.2],
[82.1,266.1],[82.2,266.6],[82.25,265.4],[82.3,265.9],[82.4,266.4],[82.45,265.6],[82.5,266.7],[82.6,266.1],[82.65,265.8],[82.7,266.8],
[82.8,266.3],[82.85,265.9],[82.9,266.6],[83.0,266.1],[83.05,266.95],[83.1,266.4],[83.2,266.3],[83.25,266.8],[83.3,266.5],[83.4,267.1],
[83.45,266.55],[83.5,266.8],[83.6,266.7],[83.65,267.3],[83.7,266.9],[83.8,267.2],[83.85,266.95],[83.9,267.4],[84.0,267.1],[84.05,267.5],
[84.1,267.3],[84.2,267.6],[84.25,267.4],[81.35,265.2],[81.95,265.9],[82.55,266.2],[83.15,266.7],[83.75,267.1],[80.6,264.9],[81.75,265.0],
[82.35,266.0],[82.95,266.8],[83.55,267.2],[81.15,265.8],[80.25,264.5],[84.15,267.3],[82.15,265.3],[83.35,266.9]];
const delta_sigma_b = [[79.08,263.1],[79.22,263.15],[79.35,263.45],[79.45,263.3],[79.55,263.6],[79.65,263.4],[79.75,263.8],[79.85,263.55],[79.95,264.2],[80.02,263.65],
[80.1,264.5],[80.18,263.95],[80.28,264.3],[80.32,263.85],[80.4,264.7],[80.48,264.1],[80.58,265.0],[80.62,264.3],[80.68,264.15],[80.75,265.3],
[80.78,264.5],[80.88,264.9],[80.95,265.6],[81.02,264.8],[81.08,264.45],[81.12,265.9],[81.18,265.1],[81.22,264.7],[81.28,265.5],[81.32,266.1],
[81.38,264.9],[81.42,265.6],[81.48,264.8],[81.52,266.2],[81.58,265.4],[81.62,264.95],[81.68,266.0],[81.72,265.5],[81.78,265.1],[81.82,265.8],
[81.88,266.3],[81.92,265.2],[81.98,265.7],[82.02,266.2],[82.08,265.5],[82.12,265.9],[82.18,266.4],[82.22,265.6],[82.28,266.1],[82.32,265.5],
[82.38,266.6],[82.42,265.9],[82.48,266.3],[82.52,265.7],[82.58,266.5],[82.62,266.0],[82.68,266.2],[82.72,265.9],[82.78,266.6],[82.82,266.1],
[82.88,266.4],[82.92,266.0],[82.98,266.7],[83.02,266.3],[83.08,266.6],[83.12,266.2],[83.18,266.9],[83.22,266.5],[83.28,266.7],[83.32,266.4],
[83.38,266.9],[83.42,266.6],[83.48,267.0],[83.52,266.7],[83.58,267.1],[83.62,266.8],[83.68,267.0],[83.72,267.3],[83.78,266.9],[83.82,267.2],
[83.88,267.0],[83.92,267.3],[83.98,267.2],[84.02,267.4],[84.08,267.25],[84.12,267.5],[84.18,267.4],[84.22,267.5],[84.28,267.55],[83.95,267.1],
[81.55,265.8],[82.05,265.4],[82.55,266.1],[83.05,266.5],[83.55,266.9],[81.05,265.4],[80.85,264.6],[81.25,266.0],[82.75,266.4],[83.25,266.3]];

const J_delta = [[263.1,-0.0310],[263.15,-0.0322],[263.25,-0.0305],[263.3,-0.0316],[263.4,-0.0327],[263.45,-0.0309],[263.55,-0.0320],[263.6,-0.0331],[263.7,-0.0305],[263.75,-0.0314],
[263.85,-0.0325],[263.9,-0.0333],[264.0,-0.0310],[264.05,-0.0319],[264.15,-0.0329],[264.2,-0.0336],[264.3,-0.0313],[264.35,-0.0323],[264.45,-0.0332],[264.5,-0.0316],
[264.6,-0.0339],[264.65,-0.0326],[264.75,-0.0314],[264.8,-0.0331],[264.9,-0.0320],[264.95,-0.0342],[265.05,-0.0335],[265.1,-0.0316],[265.2,-0.0328],[265.25,-0.0345],
[265.3,-0.0338],[265.4,-0.0323],[265.45,-0.0333],[265.5,-0.0348],[265.55,-0.0341],[265.6,-0.0319],[265.65,-0.0329],[265.7,-0.0337],[265.8,-0.0350],[265.85,-0.0344],
[265.9,-0.0324],[265.95,-0.0333],[266.0,-0.0354],[266.05,-0.0340],[266.1,-0.0347],[266.15,-0.0328],[266.2,-0.0357],[266.25,-0.0336],[266.3,-0.0344],[266.35,-0.0351],
[266.45,-0.0327],[266.5,-0.0340],[266.55,-0.0359],[266.6,-0.0347],[266.7,-0.0334],[266.75,-0.0353],[266.8,-0.0361],[266.85,-0.0343],[266.95,-0.0350],[267.0,-0.0336],
[267.05,-0.0357],[267.15,-0.0345],[267.2,-0.0339],[267.3,-0.0352],[267.35,-0.0343],[267.45,-0.0348],[267.5,-0.0340],[267.55,-0.0354],[265.0,-0.0326],[265.35,-0.0340],
[265.75,-0.0345],[266.4,-0.0355],[264.4,-0.0318],[263.95,-0.0322],[265.15,-0.0344],[266.9,-0.0357],[265.6,-0.0336],[265.25,-0.0331],[266.1,-0.0337],[265.85,-0.0349]];
const J_delta_b = [[263.12,-0.0315],[263.2,-0.0307],[263.28,-0.0324],[263.35,-0.0312],[263.42,-0.0319],[263.5,-0.0306],[263.58,-0.0326],[263.65,-0.0313],[263.72,-0.0320],[263.8,-0.0308],
[263.88,-0.0317],[263.95,-0.0328],[264.02,-0.0314],[264.1,-0.0324],[264.18,-0.0311],[264.25,-0.0333],[264.32,-0.0319],[264.4,-0.0327],[264.48,-0.0336],[264.55,-0.0321],
[264.62,-0.0314],[264.7,-0.0334],[264.78,-0.0324],[264.85,-0.0337],[264.92,-0.0317],[265.0,-0.0339],[265.08,-0.0329],[265.12,-0.0321],[265.18,-0.0336],[265.22,-0.0341],
[265.28,-0.0325],[265.32,-0.0344],[265.38,-0.0331],[265.42,-0.0318],[265.48,-0.0342],[265.52,-0.0327],[265.58,-0.0346],[265.62,-0.0333],[265.68,-0.0341],[265.72,-0.0324],
[265.78,-0.0348],[265.82,-0.0336],[265.88,-0.0342],[265.92,-0.0329],[265.98,-0.0347],[266.02,-0.0333],[266.08,-0.0352],[266.12,-0.0340],[266.18,-0.0345],[266.22,-0.0330],
[266.28,-0.0355],[266.32,-0.0339],[266.38,-0.0347],[266.42,-0.0334],[266.48,-0.0352],[266.52,-0.0344],[266.58,-0.0338],[266.62,-0.0355],[266.68,-0.0345],[266.72,-0.0340],
[266.78,-0.0357],[266.82,-0.0348],[266.88,-0.0338],[266.92,-0.0354],[266.98,-0.0344],[267.02,-0.0350],[267.08,-0.0340],[267.12,-0.0355],[267.18,-0.0348],[267.22,-0.0343],
[267.28,-0.0346],[267.32,-0.0339],[267.38,-0.0353],[267.42,-0.0342],[267.48,-0.0351],[267.52,-0.0345],[267.58,-0.0349],[265.65,-0.0350],[266.05,-0.0345],[265.25,-0.0337],
[265.95,-0.0338],[266.45,-0.0349],[265.35,-0.0347],[264.85,-0.0328],[266.65,-0.0350],[265.75,-0.0339],[266.15,-0.0350],[265.55,-0.0336],[266.35,-0.0341],[264.25,-0.0326]];

const mee_delta = [[263.25,0.1003],[263.3,0.0985],[263.4,0.1015],[263.5,0.1055],[263.6,0.0992],[263.65,0.1008],[263.75,0.1030],[263.85,0.0978],[263.9,0.1045],[264.0,0.1010],
[264.05,0.0995],[264.15,0.1062],[264.2,0.1022],[264.3,0.0970],[264.35,0.1038],[264.45,0.1002],[264.5,0.1050],[264.55,0.0985],[264.65,0.1018],[264.7,0.0962],
[264.8,0.1065],[264.85,0.1030],[264.9,0.0995],[265.0,0.1008],[265.05,0.1045],[265.1,0.0975],[265.15,0.1022],[265.2,0.0990],[265.25,0.1060],[265.3,0.1003],
[265.35,0.1015],[265.4,0.0968],[265.45,0.1035],[265.5,0.0998],[265.55,0.1010],[265.6,0.1048],[265.65,0.0985],[265.7,0.1020],[265.75,0.1003],[265.8,0.0958],
[265.85,0.1028],[265.9,0.0993],[265.95,0.1058],[266.0,0.1012],[266.05,0.0980],[266.1,0.1040],[266.15,0.1000],[266.2,0.1022],[266.25,0.0970],[266.3,0.1066],
[266.35,0.1008],[266.4,0.0990],[266.45,0.1048],[266.5,0.1015],[266.6,0.0978],[266.65,0.1035],[266.7,0.1000],[266.8,0.1058],[266.85,0.0988],[266.9,0.1020],
[267.0,0.0972],[267.05,0.1042],[267.1,0.1005],[267.2,0.0990],[267.25,0.1028],[267.35,0.1012],[267.4,0.0982],[267.5,0.1002],[267.55,0.1018],[265.55,0.0978],
[265.3,0.1028],[265.8,0.1012],[266.0,0.0995],[265.4,0.1005],[265.65,0.1032],[264.95,0.1012],[266.25,0.1030],[264.6,0.1005],[266.55,0.0998],[265.15,0.0985],
[265.9,0.1045],[263.95,0.0988],[267.15,0.1055],[264.25,0.1042],[266.75,0.1022]];
const mee_delta_b = [[263.22,0.1012],[263.35,0.0995],[263.45,0.1030],[263.55,0.1005],[263.62,0.1040],[263.7,0.0985],[263.8,0.1018],[263.88,0.1055],[263.95,0.1000],[264.02,0.1035],
[264.1,0.0978],[264.18,0.1015],[264.25,0.1055],[264.32,0.0990],[264.4,0.1025],[264.48,0.0970],[264.52,0.1040],[264.58,0.1010],[264.62,0.1060],[264.68,0.0992],
[264.72,0.1028],[264.78,0.0975],[264.82,0.1048],[264.88,0.1012],[264.92,0.0965],[264.98,0.1035],[265.02,0.0995],[265.08,0.1058],[265.12,0.1005],[265.18,0.1040],
[265.22,0.0978],[265.28,0.1018],[265.32,0.0995],[265.38,0.1050],[265.42,0.1010],[265.48,0.0985],[265.52,0.1025],[265.58,0.1002],[265.62,0.1062],[265.68,0.0992],
[265.72,0.1015],[265.78,0.1038],[265.82,0.0975],[265.88,0.1008],[265.92,0.1030],[265.98,0.0988],[266.02,0.1050],[266.08,0.1005],[266.12,0.1025],[266.18,0.0965],
[266.22,0.1012],[266.28,0.1040],[266.32,0.0985],[266.38,0.1020],[266.42,0.1060],[266.48,0.0995],[266.52,0.1032],[266.58,0.1008],[266.62,0.0968],[266.68,0.1050],
[266.72,0.1015],[266.78,0.0985],[266.82,0.1035],[266.88,0.1005],[266.92,0.1065],[266.98,0.0990],[267.02,0.1020],[267.08,0.0980],[267.12,0.1032],[267.18,0.1010],
[267.22,0.0995],[267.28,0.1045],[267.32,0.1000],[267.38,0.1022],[267.45,0.0992],[267.52,0.1028],[267.58,0.1008],[265.35,0.1030],[265.55,0.1015],[265.75,0.0995],
[265.95,0.1018],[266.15,0.1002],[265.15,0.1012],[265.65,0.1005],[266.05,0.1028],[265.45,0.0995],[265.85,0.1020],[266.25,0.1000],[265.25,0.1035],[266.45,0.1012],
[264.75,0.1008],[264.35,0.1005],[266.85,0.1010],[265.05,0.1020],[266.65,0.1022],[265.7,0.1042],[264.9,0.1045],[266.35,0.0975],[265.9,0.0978],[265.5,0.1052]];

const m2_delta = [[263.25,0.1095],[263.3,0.1060],[263.4,0.1080],[263.5,0.1120],[263.6,0.1050],[263.65,0.1102],[263.75,0.1070],[263.85,0.1088],[263.9,0.1125],[264.0,0.1058],
[264.05,0.1110],[264.15,0.1075],[264.2,0.1135],[264.3,0.1045],[264.35,0.1095],[264.45,0.1068],[264.5,0.1118],[264.55,0.1040],[264.65,0.1085],[264.7,0.1060],
[264.8,0.1105],[264.85,0.1030],[264.9,0.1078],[265.0,0.1128],[265.05,0.1062],[265.1,0.1092],[265.15,0.1022],[265.2,0.1070],[265.25,0.1115],[265.3,0.1050],
[265.35,0.1083],[265.4,0.1035],[265.45,0.1100],[265.5,0.1065],[265.55,0.1076],[265.6,0.1130],[265.65,0.1048],[265.7,0.1088],[265.75,0.1070],[265.8,0.1025],
[265.85,0.1095],[265.9,0.1058],[265.95,0.1112],[266.0,0.1078],[266.05,0.1040],[266.1,0.1085],[266.15,0.1065],[266.2,0.1122],[266.25,0.1030],[266.3,0.1072],
[266.35,0.1098],[266.4,0.1018],[266.45,0.1055],[266.5,0.1108],[266.6,0.1080],[266.65,0.1045],[266.7,0.1090],[266.8,0.1060],[266.85,0.1135],[266.9,0.1075],
[267.0,0.1035],[267.05,0.1100],[267.1,0.1068],[267.2,0.1085],[267.25,0.1050],[267.35,0.1112],[267.4,0.1072],[267.5,0.1058],[267.55,0.1090],[265.55,0.1055],
[265.3,0.1090],[265.8,0.1075],[266.0,0.1062],[265.4,0.1072],[265.65,0.1102],[264.95,0.1050],[266.25,0.1092],[264.6,0.1098],[266.55,0.1068],[265.15,0.1080],
[265.9,0.1082],[263.95,0.1082],[267.15,0.1125],[264.25,0.1088],[266.75,0.1110]];
const m2_delta_b = [[263.22,0.1072],[263.35,0.1090],[263.45,0.1055],[263.55,0.1105],[263.62,0.1078],[263.7,0.1115],[263.8,0.1050],[263.88,0.1100],[263.95,0.1068],[264.02,0.1130],
[264.1,0.1085],[264.18,0.1048],[264.25,0.1108],[264.32,0.1065],[264.4,0.1128],[264.48,0.1080],[264.52,0.1035],[264.58,0.1112],[264.62,0.1070],[264.68,0.1125],
[264.72,0.1045],[264.78,0.1088],[264.82,0.1060],[264.88,0.1118],[264.92,0.1040],[264.98,0.1095],[265.02,0.1075],[265.08,0.1028],[265.12,0.1108],[265.18,0.1060],
[265.22,0.1088],[265.28,0.1042],[265.32,0.1070],[265.38,0.1122],[265.42,0.1058],[265.48,0.1085],[265.52,0.1040],[265.58,0.1068],[265.62,0.1095],[265.68,0.1062],
[265.72,0.1080],[265.78,0.1118],[265.82,0.1050],[265.88,0.1072],[265.92,0.1035],[265.98,0.1090],[266.02,0.1060],[266.08,0.1105],[266.12,0.1075],[266.18,0.1048],
[266.22,0.1085],[266.28,0.1062],[266.32,0.1128],[266.38,0.1070],[266.42,0.1040],[266.48,0.1092],[266.52,0.1060],[266.58,0.1115],[266.62,0.1025],[266.68,0.1075],
[266.72,0.1100],[266.78,0.1050],[266.82,0.1085],[266.88,0.1065],[266.92,0.1118],[266.98,0.1045],[267.02,0.1080],[267.08,0.1105],[267.12,0.1060],[267.18,0.1095],
[267.22,0.1070],[267.28,0.1040],[267.32,0.1088],[267.38,0.1130],[267.45,0.1065],[267.52,0.1100],[267.58,0.1075],[265.35,0.1065],[265.55,0.1082],[265.75,0.1058],
[265.95,0.1075],[266.15,0.1090],[265.15,0.1072],[265.65,0.1078],[266.05,0.1068],[265.45,0.1095],[265.85,0.1085],[266.25,0.1055],[265.25,0.1078],[266.45,0.1072],
[264.75,0.1075],[264.35,0.1085],[266.85,0.1078],[265.05,0.1085],[266.65,0.1088],[265.7,0.1045],[264.9,0.1065],[266.35,0.1100],[265.9,0.1098],[265.5,0.1055]];

const mee_m2 = [[0.1017,0.0961],[0.1020,0.0963],[0.1024,0.0965],[0.1027,0.0970],[0.1030,0.0969],[0.1033,0.0975],[0.1036,0.0973],[0.1039,0.0981],[0.1041,0.0976],[0.1044,0.0986],
[0.1046,0.0980],[0.1048,0.0990],[0.1050,0.0983],[0.1052,0.0994],[0.1054,0.0986],[0.1055,0.0997],[0.1057,0.0990],[0.1058,0.1001],[0.1060,0.0985],[0.1061,0.0995],
[0.1063,0.1004],[0.1064,0.0991],[0.1066,0.0999],[0.1067,0.1008],[0.1069,0.0994],[0.1070,0.1003],[0.1072,0.1011],[0.1073,0.0998],[0.1075,0.1007],[0.1076,0.1015],
[0.1078,0.1002],[0.1079,0.1010],[0.1081,0.1019],[0.1082,0.1005],[0.1084,0.1013],[0.1085,0.1022],[0.1087,0.1009],[0.1088,0.1017],[0.1090,0.1025],[0.1091,0.1012],
[0.1093,0.1021],[0.1094,0.1029],[0.1096,0.1016],[0.1097,0.1025],[0.1099,0.1033],[0.1100,0.1021],[0.1102,0.1029],[0.1104,0.1037],[0.1106,0.1026],[0.1108,0.1034],
[0.1110,0.1041],[0.1112,0.1032],[0.1114,0.1039],[0.1116,0.1045],[0.1118,0.1037],[0.1120,0.1044],[0.1122,0.1050],[0.1124,0.1043],[0.1126,0.1049],[0.1128,0.1054],
[0.1130,0.1050],[0.1132,0.1055],[0.1134,0.1059],[0.1136,0.1058],[0.1138,0.1064],[0.1139,0.1067],[0.1056,0.0993],[0.1062,0.0998],[0.1068,0.1002],[0.1074,0.1004],
[0.1080,0.1012],[0.1086,0.1016],[0.1092,0.1018],[0.1098,0.1027],[0.1065,0.0988],[0.1071,0.0996],[0.1077,0.1000],[0.1083,0.1009],[0.1089,0.1020],[0.1095,0.1022],
[0.1059,0.0995],[0.1053,0.0989],[0.1101,0.1025],[0.1107,0.1030],[0.1047,0.0985],[0.1113,0.1036],[0.1043,0.0981],[0.1119,0.1041]];
const mee_m2_b = [[0.1019,0.0963],[0.1022,0.0962],[0.1026,0.0970],[0.1029,0.0968],[0.1032,0.0976],[0.1035,0.0971],[0.1038,0.0983],[0.1040,0.0974],[0.1042,0.0985],[0.1045,0.0979],
[0.1047,0.0991],[0.1049,0.0978],[0.1051,0.0986],[0.1053,0.0998],[0.1055,0.0983],[0.1056,0.0990],[0.1058,0.0995],[0.1059,0.0988],[0.1060,0.1005],[0.1062,0.0992],
[0.1063,0.0988],[0.1064,0.1000],[0.1065,0.1010],[0.1066,0.0993],[0.1067,0.0997],[0.1068,0.1012],[0.1069,0.1002],[0.1070,0.0995],[0.1071,0.1007],[0.1072,0.1000],
[0.1073,0.1016],[0.1074,0.0998],[0.1075,0.1012],[0.1076,0.1004],[0.1077,0.1020],[0.1078,0.1009],[0.1079,0.1003],[0.1080,0.1016],[0.1081,0.1008],[0.1082,0.1024],
[0.1083,0.1012],[0.1084,0.1006],[0.1085,0.1018],[0.1086,0.1027],[0.1087,0.1014],[0.1088,0.1010],[0.1089,0.1024],[0.1090,0.1016],[0.1091,0.1030],[0.1092,0.1020],
[0.1093,0.1014],[0.1094,0.1025],[0.1095,0.1033],[0.1096,0.1022],[0.1097,0.1018],[0.1098,0.1031],[0.1099,0.1024],[0.1100,0.1038],[0.1101,0.1028],[0.1103,0.1034],
[0.1105,0.1026],[0.1107,0.1040],[0.1109,0.1035],[0.1111,0.1045],[0.1113,0.1040],[0.1115,0.1049],[0.1117,0.1044],[0.1119,0.1052],[0.1121,0.1046],[0.1123,0.1055],
[0.1125,0.1051],[0.1127,0.1058],[0.1129,0.1053],[0.1131,0.1060],[0.1133,0.1057],[0.1135,0.1062],[0.1137,0.1061],[0.1140,0.1068],[0.1061,0.1002],[0.1067,0.1006],
[0.1073,0.1005],[0.1079,0.1013],[0.1085,0.1011],[0.1091,0.1021],[0.1097,0.1027],[0.1103,0.1029],[0.1057,0.1000],[0.1063,0.0996],[0.1069,0.0998],[0.1075,0.1008],
[0.1081,0.1017],[0.1087,0.1022],[0.1093,0.1027],[0.1099,0.1029],[0.1054,0.0992],[0.1050,0.0990],[0.1046,0.0987],[0.1044,0.0983]];

const m21_m3 = [[0.0889,1.00375],[0.0893,1.00381],[0.0897,1.00368],[0.0901,1.00377],[0.0904,1.00360],[0.0907,1.00372],[0.0910,1.00355],[0.0913,1.00366],[0.0915,1.00345],[0.0917,1.00358],
[0.0919,1.00336],[0.0921,1.00350],[0.0922,1.00327],[0.0924,1.00362],[0.0925,1.00340],[0.0927,1.00318],[0.0928,1.00352],[0.0930,1.00331],[0.0931,1.00345],[0.0933,1.00312],
[0.0934,1.00358],[0.0936,1.00325],[0.0937,1.00340],[0.0939,1.00350],[0.0940,1.00308],[0.0942,1.00332],[0.0943,1.00355],[0.0945,1.00318],[0.0946,1.00342],[0.0948,1.00302],
[0.0949,1.00329],[0.0951,1.00350],[0.0952,1.00312],[0.0954,1.00338],[0.0955,1.00322],[0.0957,1.00346],[0.0958,1.00300],[0.0960,1.00328],[0.0961,1.00315],[0.0963,1.00340],
[0.0964,1.00305],[0.0966,1.00325],[0.0967,1.00338],[0.0969,1.00298],[0.0970,1.00318],[0.0972,1.00332],[0.0973,1.00308],[0.0975,1.00324],[0.0976,1.00295],[0.0978,1.00315],
[0.0979,1.00333],[0.0981,1.00302],[0.0982,1.00320],[0.0984,1.00292],[0.0985,1.00310],[0.0987,1.00328],[0.0988,1.00298],[0.0990,1.00315],[0.0992,1.00305],[0.0994,1.00290],
[0.0996,1.00320],[0.0998,1.00300],[0.1000,1.00312],[0.1002,1.00286],[0.1004,1.00305],[0.1006,1.00295],[0.1008,1.00316],[0.1010,1.00280],[0.1012,1.00300],[0.1014,1.00290],
[0.1016,1.00310],[0.0926,1.00345],[0.0932,1.00322],[0.0938,1.00334],[0.0944,1.00326],[0.0950,1.00336],[0.0956,1.00316],[0.0962,1.00332],[0.0935,1.00345],[0.0947,1.00312],
[0.0953,1.00328],[0.0959,1.00340],[0.0965,1.00318],[0.0971,1.00326],[0.0977,1.00310],[0.0983,1.00324],[0.0929,1.00338],[0.0941,1.00320],[0.0989,1.00307],[0.1001,1.00296]];
const m21_m3_b = [[0.0891,1.00370],[0.0895,1.00378],[0.0899,1.00365],[0.0903,1.00374],[0.0909,1.00365],[0.0912,1.00350],[0.0916,1.00362],[0.0918,1.00340],[0.0920,1.00356],[0.0923,1.00345],
[0.0924,1.00330],[0.0926,1.00355],[0.0927,1.00335],[0.0929,1.00320],[0.0930,1.00348],[0.0932,1.00338],[0.0933,1.00328],[0.0934,1.00342],[0.0935,1.00315],[0.0936,1.00352],
[0.0938,1.00318],[0.0939,1.00340],[0.0940,1.00328],[0.0941,1.00348],[0.0942,1.00312],[0.0943,1.00336],[0.0944,1.00345],[0.0945,1.00325],[0.0946,1.00306],[0.0947,1.00335],
[0.0948,1.00346],[0.0949,1.00318],[0.0950,1.00342],[0.0951,1.00308],[0.0952,1.00332],[0.0953,1.00344],[0.0954,1.00315],[0.0955,1.00335],[0.0956,1.00304],[0.0957,1.00326],
[0.0958,1.00342],[0.0959,1.00312],[0.0960,1.00336],[0.0961,1.00322],[0.0962,1.00300],[0.0963,1.00330],[0.0964,1.00316],[0.0965,1.00338],[0.0966,1.00308],[0.0967,1.00328],
[0.0968,1.00318],[0.0969,1.00336],[0.0970,1.00303],[0.0971,1.00320],[0.0972,1.00312],[0.0973,1.00336],[0.0974,1.00300],[0.0975,1.00318],[0.0976,1.00328],[0.0977,1.00305],
[0.0978,1.00325],[0.0980,1.00312],[0.0981,1.00332],[0.0983,1.00298],[0.0984,1.00318],[0.0986,1.00306],[0.0987,1.00320],[0.0989,1.00294],[0.0990,1.00325],[0.0991,1.00300],
[0.0993,1.00314],[0.0995,1.00298],[0.0997,1.00310],[0.0999,1.00292],[0.1001,1.00316],[0.1003,1.00298],[0.1005,1.00284],[0.1007,1.00308],[0.1009,1.00292],[0.1011,1.00304],
[0.1013,1.00283],[0.1015,1.00298],[0.1017,1.00290],[0.0928,1.00330],[0.0937,1.00328],[0.0944,1.00318],[0.0952,1.00322],[0.0958,1.00328],[0.0965,1.00325],[0.0971,1.00310],
[0.0936,1.00336],[0.0948,1.00328],[0.0955,1.00318],[0.0962,1.00325],[0.0969,1.00315],[0.0979,1.00320],[0.0985,1.00302],[0.0994,1.00306],[0.0931,1.00325],[0.0960,1.00305]];

const m13_theta23 = [[41.2,1.1420],[41.3,1.1250],[41.35,1.1350],[41.5,1.1210],[41.6,1.1440],[41.7,1.1300],[41.85,1.1390],[41.95,1.1230],[42.05,1.1330],[42.2,1.1420],
[42.3,1.1260],[42.45,1.1200],[42.6,1.1370],[42.7,1.1300],[42.85,1.1420],[43.0,1.1220],[43.1,1.1340],[43.25,1.1270],[43.4,1.1390],[43.5,1.1190],
[43.65,1.1310],[43.8,1.1240],[43.9,1.1380],[44.05,1.1180],[44.2,1.1290],[44.3,1.1350],[44.45,1.1220],[44.6,1.1385],[44.7,1.1160],[44.85,1.1300],
[45.0,1.1250],[45.1,1.1360],[45.25,1.1150],[45.4,1.1280],[45.5,1.1200],[45.65,1.1340],[45.8,1.1140],[45.9,1.1260],[46.05,1.1310],[46.2,1.1180],
[46.3,1.1355],[46.45,1.1230],[46.6,1.1130],[46.7,1.1290],[46.85,1.1200],[47.0,1.1340],[47.1,1.1150],[47.25,1.1250],[47.4,1.1310],[47.5,1.1130],
[47.65,1.1220],[47.8,1.1350],[47.9,1.1170],[48.05,1.1270],[48.2,1.1130],[48.3,1.1320],[48.45,1.1200],[48.6,1.1140],[48.7,1.1250],[48.85,1.1340],
[49.0,1.1160],[49.1,1.1290],[49.25,1.1130],[49.4,1.1220],[49.5,1.1320],[49.65,1.1150],[49.8,1.1260],[49.9,1.1135],[50.05,1.1300],[50.2,1.1190],
[50.3,1.1345],[50.45,1.1140],[50.55,1.1240],[50.7,1.1170],[50.8,1.1310],[50.9,1.1130],[51.0,1.1210],[51.05,1.1280],[50.6,1.1130],[50.95,1.1340],
[49.6,1.1200],[48.9,1.1180],[47.7,1.1290],[46.9,1.1160],[45.7,1.1220],[44.5,1.1260],[43.3,1.1330],[42.1,1.1280],[50.4,1.1270],[51.0,1.1150],
[49.3,1.1170],[48.0,1.1220],[46.4,1.1300],[44.9,1.1200],[42.8,1.1250]];
const m13_theta23_b = [[41.22,1.1330],[41.28,1.1400],[41.42,1.1280],[41.45,1.1230],[41.55,1.1370],[41.65,1.1260],[41.78,1.1350],[41.88,1.1215],[41.98,1.1410],[42.12,1.1300],
[42.18,1.1240],[42.35,1.1390],[42.4,1.1330],[42.55,1.1240],[42.65,1.1410],[42.78,1.1350],[42.92,1.1210],[43.05,1.1300],[43.15,1.1400],[43.2,1.1250],
[43.35,1.1200],[43.45,1.1360],[43.55,1.1280],[43.7,1.1400],[43.75,1.1210],[43.85,1.1330],[43.95,1.1260],[44.1,1.1380],[44.15,1.1200],[44.25,1.1320],
[44.4,1.1250],[44.55,1.1170],[44.65,1.1340],[44.75,1.1280],[44.8,1.1210],[44.95,1.1360],[45.05,1.1170],[45.15,1.1300],[45.3,1.1230],[45.35,1.1350],
[45.45,1.1160],[45.55,1.1300],[45.6,1.1250],[45.75,1.1180],[45.85,1.1340],[45.95,1.1220],[46.1,1.1150],[46.15,1.1280],[46.25,1.1210],[46.35,1.1330],
[46.5,1.1160],[46.55,1.1260],[46.65,1.1340],[46.75,1.1140],[46.8,1.1240],[46.95,1.1300],[47.05,1.1190],[47.15,1.1330],[47.2,1.1140],[47.35,1.1210],
[47.45,1.1280],[47.55,1.1160],[47.6,1.1340],[47.75,1.1140],[47.85,1.1250],[47.95,1.1200],[48.1,1.1310],[48.15,1.1150],[48.25,1.1230],[48.35,1.1135],
[48.4,1.1280],[48.5,1.1170],[48.55,1.1340],[48.65,1.1210],[48.75,1.1140],[48.8,1.1300],[48.95,1.1230],[49.05,1.1130],[49.15,1.1190],[49.2,1.1340],
[49.35,1.1250],[49.45,1.1140],[49.55,1.1290],[49.7,1.1180],[49.75,1.1130],[49.85,1.1230],[49.95,1.1340],[50.0,1.1160],[50.1,1.1260],[50.15,1.1135],
[50.25,1.1210],[50.35,1.1300],[50.5,1.1150],[50.65,1.1230],[50.75,1.1130],[50.85,1.1270],[51.02,1.1170],[50.98,1.1240],[50.88,1.1150],[50.48,1.1320]];

// ---------- tick values ----------
const tk_theta12 = [32,33,34,35,36,37];
const tk_theta23 = [42,44,46,48,50];
const tk_rho_x = [93,93.5,94,94.5,95];
const tk_rho_y = [93,94,95];
const tk_sigma_x = [79,80,81,82,83,84];
const tk_sigma_y = [80,82,84];
const tk_delta_x = [263,264,265,266,267];
const tk_delta_y = [264,266];
const tk_J = [-0.036,-0.034,-0.032];
const tk_mee = [0.096,0.098,0.1,0.102,0.104,0.106];
const tk_m2 = [0.102,0.104,0.106,0.108,0.11,0.112,0.114];
const tk_m3 = [0.09,0.095,0.1];
const tk_m21 = [1.0028,1.003,1.0032,1.0034,1.0036,1.0038];
const tk_m13 = [1.12,1.13,1.14];

// ---------- title builders ----------
function G(t,it){return {t, font:(it?'italic ':'')+'18px "Liberation Serif"'};}
function B(t){return {t, font:'bold 15px "Liberation Sans"'};}
function SS(sup,sub){return {sup, sub, supFont:'12px "Liberation Sans"', subFont:'bold 11px "Liberation Sans"', supDy:-6, subDy:10};}
function SUP(s){return {sup:s, supFont:'12px "Liberation Sans"', supDy:-6};}
function SUB(s){return {sub:s, subFont:'bold 11px "Liberation Sans"', subDy:5};}

const AX = {
  theta12:{min:31.38,max:37.42,tx:tk_theta12,xt:[G('θ'),SS('o','12')],xo:35},
  theta23:{min:41.12,max:51.07,tx:tk_theta23,xt:[G('θ'),SS('o','23')],xo:35},
  rho:{min:92.52,max:95.28,tx:tk_rho_x,ty:tk_rho_y,xt:[G('ρ'),SUP('o')],yt:[G('ρ'),SUP('o')],xo:38},
  sigma:{min:78.72,max:84.4,tx:tk_sigma_x,ty:tk_sigma_y,xt:[G('σ'),SUP('o')],yt:[G('σ'),SUP('o')],xo:38},
  delta:{min:262.85,max:267.68,tx:tk_delta_x,ty:tk_delta_y,xt:[G('δ',1),SUP('o')],yt:[G('δ',1),SUP('o')],xo:39},
  J:{min:-0.03638,max:-0.03033,ty:tk_J,yt:[B('J')]},
  mee:{min:0.0957,max:0.1070,ty:tk_mee,yt:[B('m'),SUB('ee'),B('(eV)')]},
  m2:{min:0.10143,max:0.1141,tx:tk_m2,ty:tk_m2,xt:[B('m'),SUB('2')],yt:[B('m'),SUB('2'),B('(eV)')],xo:29},
  m3:{min:0.08873,max:0.10183,tx:tk_m3,xt:[B('m'),SUB('3'),B(' (eV)')],xo:30},
  m21:{min:1.00272,max:1.00384,ty:tk_m21,yt:[B('m'),SUB('21')]},
  m13:{min:1.1122,max:1.1466,ty:tk_m13,yt:[B('m'),SUB('13')]}
};

// [data, xAxis, yAxis, col, row, yTitleOffset]
const PANELS = [
  [rho_theta12.concat(rho_theta12_b),'theta12','rho',0,0,41],
  [sigma_theta12.concat(sigma_theta12_b),'theta12','sigma',1,0,42],
  [delta_theta12.concat(delta_theta12_b),'theta12','delta',2,0,50],
  [rho_theta23.concat(rho_theta23_b),'theta23','rho',0,1,41],
  [sigma_theta23.concat(sigma_theta23_b),'theta23','sigma',1,1,42],
  [delta_theta23.concat(delta_theta23_b),'theta23','delta',2,1,50],
  [sigma_rho.concat(sigma_rho_b),'rho','sigma',0,2,41],
  [delta_rho.concat(delta_rho_b),'rho','delta',1,2,50],
  [delta_sigma.concat(delta_sigma_b),'sigma','delta',2,2,50],
  [J_delta.concat(J_delta_b),'delta','J',0,3,63],
  [mee_delta.concat(mee_delta_b),'delta','mee',1,3,64],
  [m2_delta.concat(m2_delta_b),'delta','m2',2,3,73],
  [mee_m2.concat(mee_m2_b),'m2','mee',0,4,63],
  [m21_m3.concat(m21_m3_b),'m3','m21',1,4,70],
  [m13_theta23.concat(m13_theta23_b),'theta23','m13',2,4,51]
];

const LEFTS=[169,506,842], TOPS=[57,191,325,459,593], PW=241, PH=66;
const PADL=100, PADT=10, PADR=20, XAH=60;

function fmt(v){return String(v).replace('-','\u2212');}

function drawRich(ctx, parts, cx, cy, rot){
  const segs = parts.map(p=>{
    let w=0;
    if(p.t!==undefined){ctx.font=p.font; w=ctx.measureText(p.t).width;}
    else{
      if(p.sup){ctx.font=p.supFont; w=Math.max(w,ctx.measureText(p.sup).width);}
      if(p.sub){ctx.font=p.subFont; w=Math.max(w,ctx.measureText(p.sub).width);}
    }
    return {w,p};
  });
  const total=segs.reduce((a,s)=>a+s.w,0);
  ctx.save(); ctx.translate(cx,cy); if(rot) ctx.rotate(-Math.PI/2);
  ctx.textBaseline='middle'; ctx.textAlign='left'; ctx.fillStyle='#000';
  let x=-total/2;
  for(const s of segs){
    const p=s.p;
    if(p.t!==undefined){ctx.font=p.font; ctx.fillText(p.t,x,0);}
    else{
      if(p.sup){ctx.font=p.supFont; ctx.fillText(p.sup,x+0.5,p.supDy);}
      if(p.sub){ctx.font=p.subFont; ctx.fillText(p.sub,x+0.5,p.subDy);}
    }
    x+=s.w+(p.t===undefined?1:0);
  }
  ctx.restore();
}

const framePlugin = {
  id:'frame',
  afterDraw(chart){
    const o=chart.options.plugins.frame, ctx=chart.ctx, a=chart.chartArea;
    const xs=chart.scales.x, ys=chart.scales.y;
    ctx.save();
    ctx.strokeStyle='#000'; ctx.lineWidth=1;
    ctx.beginPath();
    xs.ticks.forEach(t=>{const p=Math.round(xs.getPixelForValue(t.value))+0.5;
      ctx.moveTo(p,a.bottom); ctx.lineTo(p,a.bottom-4); ctx.moveTo(p,a.top); ctx.lineTo(p,a.top+4);});
    ys.ticks.forEach(t=>{const p=Math.round(ys.getPixelForValue(t.value))+0.5;
      ctx.moveTo(a.left,p); ctx.lineTo(a.left+4,p); ctx.moveTo(a.right,p); ctx.lineTo(a.right-4,p);});
    ctx.stroke();
    ctx.lineWidth=2;
    ctx.strokeRect(a.left,a.top,a.right-a.left,a.bottom-a.top);
    drawRich(ctx,o.xt,(a.left+a.right)/2,a.bottom+o.xo,false);
    drawRich(ctx,o.yt,a.left-o.yo,(a.top+a.bottom)/2,true);
    ctx.restore();
  }
};

Chart.defaults.font.family='"Liberation Sans", Arial, sans-serif';
const page=document.getElementById('page');

PANELS.forEach(([data,xk,yk,col,row,yo])=>{
  const X=AX[xk], Y=AX[yk];
  const div=document.createElement('div');
  div.className='cell';
  div.style.left=(LEFTS[col]-PADL)+'px';
  div.style.top=(TOPS[row]-PADT)+'px';
  div.style.width=(PW+PADL+PADR)+'px';
  div.style.height=(PH+PADT+XAH)+'px';
  const cv=document.createElement('canvas');
  div.appendChild(cv); page.appendChild(div);
  const xt=X.tx, yt=Y.ty;
  const tickFont={size:14,weight:'bold',family:'"Liberation Sans", Arial, sans-serif'};
  new Chart(cv,{
    type:'scatter',
    data:{datasets:[{data:data, pointRadius:1, pointHoverRadius:0, borderWidth:0,
      backgroundColor:'#0000ff', pointBackgroundColor:'#0000ff'}]},
    options:{
      responsive:true, maintainAspectRatio:false, animation:false,
      layout:{padding:{left:0,right:PADR,top:PADT,bottom:0}},
      events:[],
      plugins:{legend:{display:false},tooltip:{enabled:false},
        frame:{xt:X.xt,xo:X.xo,yt:Y.yt,yo:yo}},
      scales:{
        x:{type:'linear',min:X.min,max:X.max,
          afterBuildTicks:s=>{s.ticks=xt.map(v=>({value:v}));},
          afterFit:s=>{s.height=XAH;},
          grid:{display:false,drawTicks:false},border:{display:false},
          ticks:{autoSkip:false,maxRotation:0,minRotation:0,padding:9,color:'#000',font:tickFont,callback:v=>fmt(v)}},
        y:{type:'linear',min:Y.min,max:Y.max,
          afterBuildTicks:s=>{s.ticks=yt.map(v=>({value:v}));},
          afterFit:s=>{s.width=PADL;},
          grid:{display:false,drawTicks:false},border:{display:false},
          ticks:{autoSkip:false,padding:6,color:'#000',font:tickFont,callback:v=>fmt(v)}}
      }
    },
    plugins:[framePlugin]
  });
});
</script>
</body></html>
